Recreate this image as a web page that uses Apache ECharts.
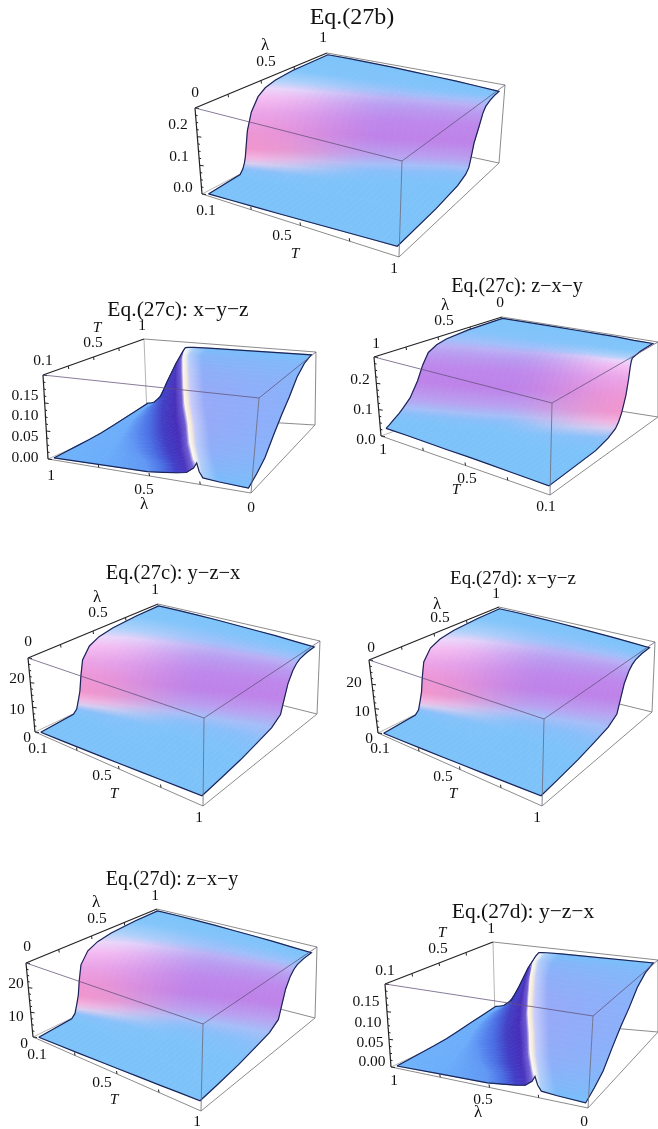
<!DOCTYPE html>
<html>
<head>
<meta charset="utf-8">
<style>html,body{margin:0;padding:0;background:#fff}#main{width:658px;height:1129px}</style>
<script src="https://cdn.jsdelivr.net/npm/echarts@6/dist/echarts.min.js"></script>
</head>
<body>
<div id="main"></div>
<script>
// height levels of the sigmoid surfaces (fraction between the row's floor and top)
var riseLevels = [0, .03, .08, .14, .2, .3, .5, .7, .85, .92, .96, .99, 1];

// depth position where each row reaches each level
var rise27b = [
    [0, .26, .285, .30, .31, .32, .34, .38, .44, .50, .58, .72, 1],
    [0, .26, .32, .35, .37, .39, .41, .45, .50, .55, .62, .75, 1],
    [0, .27, .35, .40, .43, .45, .47, .51, .56, .60, .66, .78, 1],
    [0, .28, .39, .45, .48, .50, .53, .56, .60, .65, .70, .80, 1],
    [0, .30, .43, .50, .53, .56, .58, .61, .65, .69, .74, .83, 1],
    [0, .32, .48, .55, .59, .61, .63, .66, .70, .74, .78, .85, 1],
    [0, .34, .53, .60, .64, .66, .68, .71, .75, .78, .82, .88, 1],
    [0, .37, .58, .66, .69, .71, .73, .77, .80, .83, .87, .92, 1],
    [0, .40, .62, .70, .73, .745, .77, .815, .845, .87, .91, .96, 1]
];
var rise27trio = [
    [0, .28, .31, .32, .33, .345, .36, .38, .44, .52, .63, .82, 1],
    [0, .27, .34, .37, .385, .40, .42, .45, .52, .60, .68, .85, 1],
    [0, .26, .36, .41, .435, .45, .47, .51, .58, .65, .72, .87, 1],
    [0, .24, .37, .44, .475, .495, .52, .56, .63, .69, .75, .88, 1],
    [0, .22, .38, .47, .51, .54, .57, .61, .67, .73, .78, .90, 1],
    [0, .20, .38, .49, .55, .585, .62, .655, .71, .76, .81, .91, 1],
    [0, .18, .38, .51, .58, .625, .665, .70, .75, .79, .83, .92, 1],
    [0, .16, .37, .52, .61, .67, .71, .745, .79, .82, .855, .93, 1],
    [0, .15, .35, .50, .63, .71, .74, .77, .81, .84, .87, .93, 1]
];
var rise27cz = [
    [0, .03, .07, .12, .16, .22, .29, .34, .39, .46, .54, .72, 1],
    [0, .07, .13, .19, .23, .28, .35, .40, .45, .51, .58, .74, 1],
    [0, .12, .20, .26, .30, .35, .41, .46, .50, .55, .62, .76, 1],
    [0, .17, .27, .33, .37, .42, .47, .52, .56, .60, .65, .78, 1],
    [0, .22, .33, .40, .44, .48, .53, .57, .61, .65, .69, .80, 1],
    [0, .27, .39, .46, .50, .54, .59, .63, .66, .69, .72, .82, 1],
    [0, .33, .45, .52, .56, .60, .65, .68, .70, .73, .75, .84, 1],
    [0, .39, .51, .59, .62, .66, .70, .73, .75, .76, .78, .86, 1],
    [0, .45, .57, .64, .67, .70, .74, .765, .78, .79, .80, .88, 1]
];
// height of each row at the near edge and at the far edge
var floor27b = [0, .01, .02, .03, .04, .05, .06, .07, .08];
var top27b = [1, 1, .995, .99, .98, .97, .96, .945, .93];
var floor27trio = [0, .01, .02, .03, .04, .05, .06, .07, .08];
var top27trio = [1, 1, .995, .99, .98, .97, .96, .945, .93];
var floor27cz = [.1, .1, .095, .09, .09, .085, .08, .075, .07];
var top27cz = [1, 1, 1, 1, 1, 1, 1, .99, .99];

// cliff surfaces: one row per T step, position and height across lambda
var cliffPos27c = [
    [0, .22, .48, .56, .63, .68, .715, .73, .745, .765, .85, 1],
    [0, .20, .42, .50, .57, .62, .655, .67, .685, .705, .78, 1],
    [0, .18, .32, .41, .49, .55, .585, .60, .615, .635, .71, 1],
    [0, .15, .24, .34, .42, .49, .525, .54, .555, .575, .65, 1],
    [0, .12, .17, .27, .35, .42, .455, .47, .485, .505, .58, 1],
    [0, .08, .12, .21, .29, .36, .395, .41, .425, .445, .52, 1],
    [0, .05, .08, .15, .23, .30, .335, .35, .365, .385, .46, 1],
    [0, .03, .05, .10, .17, .24, .275, .29, .305, .325, .40, 1],
    [0, .02, .04, .08, .12, .18, .225, .24, .26, .29, .38, 1]
];
var cliffPos27d = [
    [0, .22, .48, .56, .63, .68, .715, .73, .745, .765, .85, 1],
    [0, .20, .42, .50, .57, .62, .655, .67, .685, .705, .78, 1],
    [0, .18, .32, .41, .49, .55, .585, .60, .615, .635, .71, 1],
    [0, .15, .24, .34, .42, .49, .525, .54, .555, .575, .65, 1],
    [0, .12, .17, .27, .35, .42, .46, .475, .49, .51, .59, 1],
    [0, .08, .12, .21, .29, .365, .405, .42, .435, .455, .53, 1],
    [0, .05, .08, .15, .24, .31, .35, .365, .38, .40, .47, 1],
    [0, .03, .05, .11, .19, .26, .30, .315, .33, .35, .43, 1],
    [0, .02, .05, .10, .15, .21, .26, .28, .30, .33, .42, 1]
];
var cliffHeight = [
    [.01, .02, .03, .05, .07, .09, .15, .21, .12, .06, .045, .03],
    [.02, .03, .04, .06, .08, .10, .14, .16, .15, .13, .115, .10],
    [.03, .04, .05, .07, .10, .15, .22, .26, .25, .23, .21, .19],
    [.04, .05, .06, .09, .14, .24, .35, .40, .39, .38, .37, .36],
    [.055, .06, .075, .11, .18, .32, .48, .54, .53, .52, .52, .52],
    [.08, .085, .095, .14, .24, .42, .60, .66, .66, .66, .66, .66],
    [.11, .115, .125, .18, .31, .53, .73, .80, .81, .815, .82, .83],
    [.14, .145, .155, .22, .37, .62, .83, .90, .91, .915, .92, .93],
    [.17, .175, .19, .27, .46, .72, .89, .94, .945, .95, .955, .97]
];

// surface colours per level
var shadePink = ['#7dc3fa', '#7dc3fa', '#8ac0fa', '#d8cdf0', '#f2b4e1', '#f096cd', '#ec96d7', '#eba5e8', '#f5bef2', '#ebd7fa', '#afd2fa', '#82c5fa', '#7dc3fa'];
var shadePurple = ['#7dc3fa', '#7dc3fa', '#7dc3fa', '#87bffa', '#a5bef8', '#b9a0f0', '#be82e8', '#be87eb', '#b99bf0', '#b9aff5', '#a0bffa', '#82c3fa', '#7dc3fa'];
var shadeCliffMid = ['#6eb0fa', '#6cacfa', '#5f96f4', '#4a6ee4', '#413cc3', '#462db9', '#6e5ad2', '#faf5f0', '#fae9d2', '#c8cdfa', '#96aaf8', '#8cb0fa'];
var shadeCliffEdge = ['#6eb4fa', '#6aaefa', '#6098f4', '#4c72e4', '#4240c8', '#4a38c0', '#7a6ad8', '#f5f8fc', '#e4f0fc', '#a8d0fa', '#78bcfa', '#78c0fa'];

var edgeGrey = '#8c8c8c';
var lineInk = '#1c2458';
var stripsPerQuad = 4;

function corners(lb, fb, bb, rb, lt, ft, bt, rt) {
    return { lb: lb, fb: fb, bb: bb, rb: rb, lt: lt, ft: ft, bt: bt, rt: rt };
}

var panels = [
    {
        title: 'Eq.(27b)', titleAt: [352, 18], titleSize: 24, kind: 'rise', rise: rise27b, floor: floor27b, top: top27b, flip: false,
        box: corners([202, 194], [399, 257], [330, 127], [499, 163], [195, 108], [402, 161], [327, 53], [505, 85]),
        labels: [['1', 323, 38], ['λ', 265, 46], ['0.5', 266, 62], ['0', 195, 93], ['0.2', 178, 125], ['0.1', 179, 157], ['0.0', 183, 188], ['0.1', 206, 211], ['0.5', 282, 236], ['T', 295, 254, 1], ['1', 394, 269]]
    },
    {
        title: 'Eq.(27c): x−y−z', titleAt: [178, 310], titleSize: 21.5, kind: 'cliff', cliff: cliffPos27c,
        box: corners([48, 459], [251, 493], [147, 415], [315, 425], [43, 375], [259, 398], [144, 339], [316, 352]),
        labels: [['T', 97, 328, 1], ['1', 142, 326], ['0.5', 93, 343], ['0.1', 43, 361], ['0.15', 25, 396], ['0.10', 25, 416], ['0.05', 25, 437], ['0.00', 25, 458], ['1', 51, 476], ['0.5', 144, 490], ['λ', 144, 505], ['0', 251, 508]]
    },
    {
        title: 'Eq.(27c): z−x−y', titleAt: [517, 287], titleSize: 20, kind: 'rise', rise: rise27cz, floor: floor27cz, top: top27cz, flip: true,
        box: corners([381, 436], [550, 495], [500, 392], [658, 417], [374, 357], [552, 403], [502, 317], [658, 342]),
        labels: [['λ', 445, 306], ['0', 500, 303], ['0.5', 444, 321], ['1', 376, 344], ['0.2', 360, 380], ['0.1', 363, 410], ['0.0', 366, 440], ['1', 383, 450], ['T', 456, 490, 1], ['0.5', 467, 479], ['0.1', 546, 507]]
    },
    {
        title: 'Eq.(27c): y−z−x', titleAt: [173, 574], titleSize: 20.5, kind: 'rise', rise: rise27trio, floor: floor27trio, top: top27trio, flip: false,
        box: corners([35, 732], [203, 806], [157, 674], [317, 714], [28, 658], [204, 718], [158, 604], [320, 641]),
        labels: [['λ', 97, 598], ['1', 155, 590], ['0.5', 98, 613], ['0', 28, 642], ['20', 17, 679], ['10', 17, 710], ['0', 27, 738], ['0.1', 38, 749], ['0.5', 102, 776], ['T', 114, 794, 1], ['1', 199, 818]]
    },
    {
        title: 'Eq.(27d): x−y−z', titleAt: [513, 579], titleSize: 19, kind: 'rise', rise: rise27trio, floor: floor27trio, top: top27trio, flip: false,
        box: corners([378, 733], [542, 806], [497, 674], [652, 712], [369, 660], [544, 719], [499, 607], [655, 642]),
        labels: [['λ', 437, 605], ['1', 496, 594], ['0.5', 440, 618], ['0', 371, 648], ['20', 354, 683], ['10', 362, 712], ['0', 369, 739], ['0.1', 380, 749], ['0.5', 443, 777], ['T', 453, 794, 1], ['1', 537, 818]]
    },
    {
        title: 'Eq.(27d): z−x−y', titleAt: [172, 880], titleSize: 20, kind: 'rise', rise: rise27trio, floor: floor27trio, top: top27trio, flip: false,
        box: corners([33, 1037], [201, 1111], [156, 977], [315, 1018], [26, 963], [203, 1024], [157, 909], [317, 947]),
        labels: [['λ', 96, 903], ['1', 155, 896], ['0.5', 97, 919], ['0', 27, 947], ['20', 16, 984], ['10', 16, 1017], ['0', 24, 1044], ['0.1', 37, 1055], ['0.5', 102, 1083], ['T', 114, 1100, 1], ['1', 197, 1122]]
    },
    {
        title: 'Eq.(27d): y−z−x', titleAt: [523, 912], titleSize: 21.5, kind: 'cliff', cliff: cliffPos27d,
        box: corners([391, 1067], [588, 1108], [495, 1018], [658, 1032], [385, 984], [593, 1016], [493, 942], [658, 960]),
        labels: [['T', 442, 933, 1], ['1', 491, 929], ['0.5', 438, 949], ['0.1', 385, 971], ['0.15', 366, 1002], ['0.10', 368, 1023], ['0.05', 370, 1043], ['0.00', 372, 1062], ['1', 394, 1081], ['0.5', 483, 1100], ['λ', 478, 1113], ['0', 584, 1122]]
    }
];

// box coordinates (u left->front, v left->back, w up) to the page plane
function place(box, u, v, w) {
    function side(a, b, c, d) {
        return a * (1 - u) * (1 - v) + b * u * (1 - v) + c * (1 - u) * v + d * u * v;
    }
    var x0 = side(box.lb[0], box.fb[0], box.bb[0], box.rb[0]);
    var y0 = side(box.lb[1], box.fb[1], box.bb[1], box.rb[1]);
    var x1 = side(box.lt[0], box.ft[0], box.bt[0], box.rt[0]);
    var y1 = side(box.lt[1], box.ft[1], box.bt[1], box.rt[1]);
    return [x0 + (x1 - x0) * w, y0 + (y1 - y0) * w];
}

function rowCount(p) {
    return p.kind === 'cliff' ? p.cliff.length : p.rise.length;
}
function colCount(p) {
    return p.kind === 'cliff' ? p.cliff[0].length : riseLevels.length;
}

// mesh vertex of a panel, inset a little from the box like the plot range padding
function vertex(p, row, col) {
    var along = row / (rowCount(p) - 1), lift;
    if (p.kind === 'cliff') {
        return place(p.box, .02 + .96 * p.cliff[row][col], .02 + .96 * along, cliffHeight[row][col]);
    }
    lift = p.floor[row] + (p.top[row] - p.floor[row]) * riseLevels[col];
    return place(p.box, .02 + .96 * along, .02 + .96 * p.rise[row][col], lift);
}

function toRgb(hex) {
    return [parseInt(hex.substr(1, 2), 16), parseInt(hex.substr(3, 2), 16), parseInt(hex.substr(5, 2), 16)];
}
function blend(a, b, t) {
    var ca = toRgb(a), cb = toRgb(b);
    return 'rgb(' + Math.round(ca[0] + (cb[0] - ca[0]) * t) + ',' + Math.round(ca[1] + (cb[1] - ca[1]) * t) + ',' + Math.round(ca[2] + (cb[2] - ca[2]) * t) + ')';
}
function shade(p, rowMid, col) {
    var t = rowMid / (rowCount(p) - 1);
    if (p.kind === 'cliff') {
        var e = Math.abs(t - .5) * 2;
        return blend(shadeCliffMid[col], shadeCliffEdge[col], e * e);
    }
    if (p.flip) t = 1 - t;
    t = Math.min(1, t / .6);
    return blend(shadePink[col], shadePurple[col], t * t * (3 - 2 * t));
}

function lerp(a, b, t) {
    return [a[0] + (b[0] - a[0]) * t, a[1] + (b[1] - a[1]) * t];
}

// fill for one strip: the gradient runs square to the strip's ends so neighbours line up
function stripFill(a, b, d, e, from, to) {
    var ix = (b[0] - a[0]) + (e[0] - d[0]), iy = (b[1] - a[1]) + (e[1] - d[1]);
    var len = Math.sqrt(ix * ix + iy * iy) || 1;
    var nx = -iy / len, ny = ix / len;
    var sx = (a[0] + b[0]) / 2, sy = (a[1] + b[1]) / 2;
    var reach = ((d[0] + e[0]) / 2 - sx) * nx + ((d[1] + e[1]) / 2 - sy) * ny;
    if (Math.abs(reach) < .05) return from;
    return new echarts.graphic.LinearGradient(sx, sy, sx + nx * reach, sy + ny * reach, [
        { offset: 0, color: from },
        { offset: 1, color: to }
    ], true);
}

function quadSeries(p) {
    var data = [], rows = rowCount(p), cols = colCount(p), r, c;
    if (p.kind === 'cliff') {
        for (r = rows - 2; r >= 0; r--) for (c = 0; c < cols - 1; c++) data.push([r, c]);
    } else {
        for (c = cols - 2; c >= 0; c--) for (r = 0; r < rows - 1; r++) data.push([r, c]);
    }
    return {
        type: 'custom', silent: true, animation: false, clip: false, data: data,
        renderItem: function (params, api) {
            var r = api.value(0), c = api.value(1);
            var a = api.coord(vertex(p, r, c)), b = api.coord(vertex(p, r + 1, c));
            var d = api.coord(vertex(p, r, c + 1)), e = api.coord(vertex(p, r + 1, c + 1));
            var kids = [], s, s0, s1, a1, b1, d1, e1, from, to, fill;
            for (s = 0; s < stripsPerQuad; s++) {
                s0 = s / stripsPerQuad;
                s1 = (s + 1) / stripsPerQuad;
                a1 = lerp(a, b, s0);
                b1 = lerp(a, b, s1);
                d1 = lerp(d, e, s0);
                e1 = lerp(d, e, s1);
                from = shade(p, r + (s0 + s1) / 2, c);
                to = shade(p, r + (s0 + s1) / 2, c + 1);
                fill = stripFill(a1, b1, d1, e1, from, to);
                kids.push({
                    type: 'polygon',
                    shape: { points: [a1, b1, e1, d1] },
                    style: { fill: fill, stroke: fill, lineWidth: .8 }
                });
            }
            return { type: 'group', children: kids };
        }
    };
}

function lineElement(a, b, color, width) {
    return { type: 'line', shape: { x1: a[0], y1: a[1], x2: b[0], y2: b[1] }, style: { stroke: color, lineWidth: width } };
}

// one custom series that hands back a group of plain line pieces
function lineSeries(build) {
    return {
        type: 'custom', silent: true, animation: false, clip: false, data: [[0, 0]],
        renderItem: function (params, api) {
            return { type: 'group', children: build(api) };
        }
    };
}

function backLines(p) {
    return lineSeries(function (api) {
        var b = p.box, c = function (q) { return api.coord(q); };
        var kids = [
            lineElement(c(b.lb), c(b.fb), edgeGrey, 1),
            lineElement(c(b.fb), c(b.rb), edgeGrey, 1),
            lineElement(c(b.rb), c(b.rt), edgeGrey, 1),
            lineElement(c(b.bb), c(b.rb), edgeGrey, 1),
            lineElement(c(b.bt), c(b.rt), edgeGrey, 1),
            lineElement(c(b.bt), c(b.bb), '#b5b5b5', 1),
            lineElement(c(b.lb), c(b.bb), '#b5b5b5', 1),
            lineElement(c(b.lt), c(b.bt), '#222222', 1.2),
            lineElement(c(b.lt), c(b.lb), '#222222', 1.2)
        ];
        var i, q0, q1;
        for (i = 0; i <= 12; i++) {
            q0 = place(b, 0, 0, i / 12);
            kids.push(lineElement(c(q0), c([q0[0] + (i % 4 === 0 ? 4 : 2), q0[1] + .5]), '#222222', 1));
        }
        for (i = 1; i < 4; i++) {
            q0 = place(b, i / 4, 0, 0);
            q1 = [q0[0] - .5, q0[1] - 3];
            kids.push(lineElement(c(q0), c(q1), '#222222', 1));
            q0 = place(b, 0, i / 4, 1);
            q1 = [q0[0] + .5, q0[1] + 3];
            kids.push(lineElement(c(q0), c(q1), '#222222', 1));
        }
        return kids;
    });
}

function outlineAndFront(p) {
    return lineSeries(function (api) {
        var rows = rowCount(p), cols = colCount(p);
        var pts = [], r, c;
        for (c = 0; c < cols; c++) pts.push(api.coord(vertex(p, 0, c)));
        for (r = 1; r < rows; r++) pts.push(api.coord(vertex(p, r, cols - 1)));
        for (c = cols - 2; c >= 0; c--) pts.push(api.coord(vertex(p, rows - 1, c)));
        for (r = rows - 2; r >= 0; r--) pts.push(api.coord(vertex(p, r, 0)));
        var b = p.box, front = 'rgba(96,80,120,0.75)';
        return [
            { type: 'polyline', shape: { points: pts }, style: { fill: 'none', stroke: lineInk, lineWidth: 1.2 } },
            lineElement(api.coord(b.lt), api.coord(b.ft), front, 1),
            lineElement(api.coord(b.ft), api.coord(b.rt), front, 1),
            lineElement(api.coord(b.ft), api.coord(b.fb), 'rgba(110,110,130,0.85)', 1)
        ];
    });
}

function labelSeries(p) {
    return lineSeries(function (api) {
        return p.labels.map(function (l) {
            var at = api.coord([l[1], l[2]]);
            return {
                type: 'text', x: at[0], y: at[1],
                style: {
                    text: l[0], fill: '#111111', align: 'center', verticalAlign: 'middle',
                    font: (l[3] ? 'italic ' : '') + (l[0] === 'λ' ? '17px' : '15.5px') + ' "Liberation Serif", serif'
                }
            };
        });
    });
}

var series = [];
panels.forEach(function (p) {
    series.push(backLines(p), quadSeries(p), outlineAndFront(p), labelSeries(p));
});

var myChart = echarts.init(document.getElementById('main'), null, { renderer: 'canvas' });
myChart.setOption({
    animation: false,
    backgroundColor: '#ffffff',
    title: panels.map(function (p) {
        return {
            text: p.title, left: p.titleAt[0], top: p.titleAt[1], textAlign: 'center', textVerticalAlign: 'middle',
            padding: 0,
            textStyle: { fontFamily: '"Liberation Serif", serif', fontWeight: 'normal', fontSize: p.titleSize, color: '#111111' }
        };
    }),
    grid: { left: 0, right: 0, top: 0, bottom: 0 },
    xAxis: { type: 'value', min: 0, max: 658, show: false },
    yAxis: { type: 'value', min: 0, max: 1129, inverse: true, show: false },
    series: series
});
</script>
</body>
</html>
